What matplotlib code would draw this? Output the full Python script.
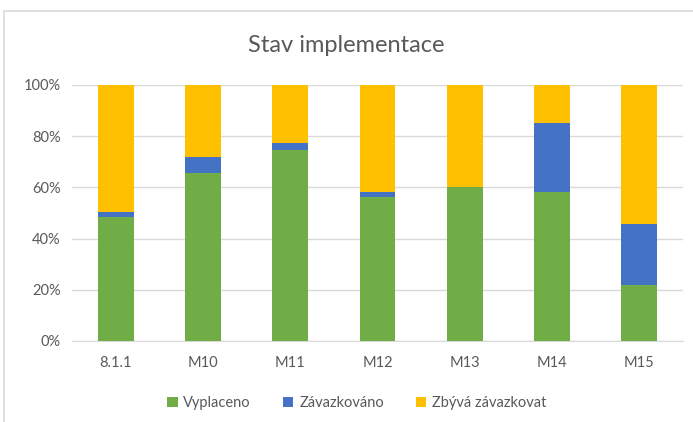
import numpy as np
import matplotlib
matplotlib.use("Agg")
import matplotlib.pyplot as plt
from matplotlib.patches import Rectangle

categories = ["8.1.1", "M10", "M11", "M12", "M13", "M14", "M15"]
vyplaceno = [0.483, 0.657, 0.745, 0.563, 0.603, 0.582, 0.219]
zavazkovano = [0.020, 0.063, 0.030, 0.020, 0.0, 0.270, 0.239]
series_names = ["Vyplaceno", "Závazkováno", "Zbývá závazkovat"]
yticks = [0, 0.2, 0.4, 0.6, 0.8, 1.0]

zbyva = [1 - v - z for v, z in zip(vyplaceno, zavazkovano)]

plt.rcParams["font.family"] = ["Lato", "DejaVu Sans"]
grey = "#595959"

fig = plt.figure(figsize=(6.93, 4.22), dpi=100)
ax = fig.add_axes([72 / 693, 1 - 341 / 422, 611 / 693, 256 / 422])

x = np.arange(len(categories))
w = 0.41
ax.bar(x, vyplaceno, w, color="#70ad47", label=series_names[0], zorder=3)
ax.bar(x, zavazkovano, w, bottom=vyplaceno, color="#4472c4", label=series_names[1], zorder=3)
ax.bar(x, zbyva, w, bottom=np.add(vyplaceno, zavazkovano), color="#ffc000",
       label=series_names[2], zorder=3)

ax.set_xlim(-0.5, len(categories) - 0.5)
ax.set_ylim(0, 1)
ax.set_yticks(yticks)
ax.set_yticklabels([f"{int(round(t * 100))}%" for t in yticks])
ax.set_xticks(x)
ax.set_xticklabels(categories)
ax.yaxis.grid(True, color="#d9d9d9", lw=1, zorder=0)
ax.tick_params(axis="both", length=0, labelsize=10.5, colors=grey)
ax.tick_params(axis="x", pad=11)
ax.tick_params(axis="y", pad=8)
for s in ["top", "right", "left"]:
    ax.spines[s].set_visible(False)
ax.spines["bottom"].set_color("#d9d9d9")

fig.text(0.5, 1 - 45 / 422, "Stav implementace", ha="center", va="center",
         fontsize=17, color=grey)

handles, labels = ax.get_legend_handles_labels()
fig.legend(handles, labels, loc="center", bbox_to_anchor=(0.515, 1 - 403 / 422), ncol=3,
           frameon=False, fontsize=10.5, labelcolor=grey, handlelength=0.7,
           handleheight=0.7, handletextpad=0.4, columnspacing=2.2)

fig.patches.append(Rectangle((3.5 / 693, -0.1), 1.2, 1 - 11.5 / 422 + 0.1,
                             transform=fig.transFigure, fill=False,
                             edgecolor="#d9d9d9", lw=1.2))

fig.savefig("out.png", dpi=100)
plt.close(fig)
